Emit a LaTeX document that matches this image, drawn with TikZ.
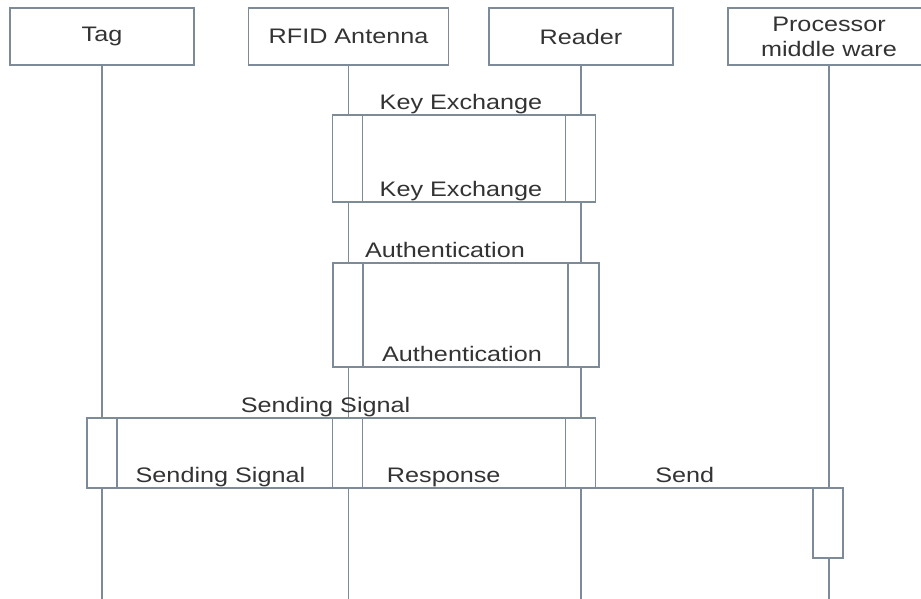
\documentclass[tikz,border=0pt]{standalone}
\usepackage{fontspec}
\setmainfont{Liberation Sans}[FakeStretch=1.2]
\definecolor{seqline}{HTML}{7D8A97}
\definecolor{seqtext}{HTML}{333333}

\begin{document}
\begin{tikzpicture}[x=1pt,y=1pt,
    every node/.style={font=\fontsize{21}{25}\selectfont, text=seqtext},
    head/.style={draw=seqline, line width=1.5pt, fill=white, minimum height=57pt, align=center, inner sep=0pt},
    act/.style={draw=seqline, line width=1.5pt, fill=white, minimum width=30pt, inner sep=0pt, outer sep=0pt},
    life/.style={draw=seqline, line width=1.5pt},
    msg/.style={draw=seqline, line width=1.5pt},
    lbl/.style={above, inner sep=1pt, text height=15pt, text depth=4pt}]
    \useasboundingbox (0,0) rectangle (921,-599);
    % objects
    \node [head, minimum width=184pt] (tag) at (102,-36.5) {Tag};
    \node [head, minimum width=200pt] (antenna) at (348.5,-36.5) {RFID Antenna};
    \node [head, minimum width=184pt] (reader) at (581,-36.5) {Reader};
    \node [head, minimum width=202pt] (proc) at (829,-36.5) {Processor\\middle ware};
    % lifelines
    \coordinate (tagend) at (102,-610);
    \coordinate (antennaend) at (348.5,-610);
    \coordinate (readerend) at (581,-610);
    \coordinate (procend) at (829,-610);
    \draw [life] (tag) -- (tagend);
    \draw [life] (antenna) -- (antennaend);
    \draw [life] (reader) -- (readerend);
    \draw [life] (proc) -- (procend);
    % activations
    \node [act, minimum height=87pt] (kxa) at (347.5,-158.5) {};
    \node [act, minimum height=87pt] (kxr) at (580.5,-158.5) {};
    \node [act, minimum height=104pt] (aua) at (348,-315) {};
    \node [act, minimum height=104pt, minimum width=31pt] (aur) at (583.5,-315) {};
    \node [act, minimum height=70pt] (sgt) at (102,-453) {};
    \node [act, minimum height=70pt] (sga) at (347.5,-453) {};
    \node [act, minimum height=70pt] (sgr) at (580.5,-453) {};
    \node [act, minimum height=70pt] (prc) at (828,-523) {};
    % messages
    \draw [msg] (kxa.north east) -- node [lbl, pos=0.485] {Key Exchange} (kxr.north west);
    \draw [msg] (kxr.south west) -- node [lbl, pos=0.515] {Key Exchange} (kxa.south east);
    \draw [msg] (aua.north east) -- node [lbl, pos=0.40] {Authentication} (aur.north west);
    \draw [msg] (aur.south west) -- node [lbl, pos=0.517] {Authentication} (aua.south east);
    \draw [msg] (sgt.north east) -- node [lbl, pos=0.465] {Sending Signal} (sgr.north west);
    \draw [msg] (sga.south west) -- node [lbl, pos=0.52] {Sending Signal} (sgt.south east);
    \draw [msg] (sgr.south west) -- node [lbl, pos=0.60] {Response} (sga.south east);
    \draw [msg] (sgr.south east) -- node [lbl, pos=0.41] {Send} (prc.north west);
\end{tikzpicture}
\end{document}
